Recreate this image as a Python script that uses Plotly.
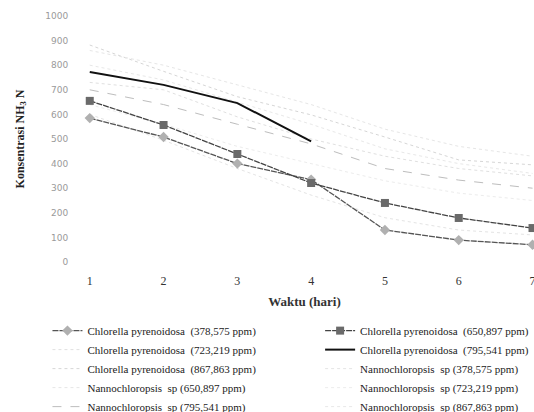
import plotly.graph_objects as go

days = [1, 2, 3, 4, 5, 6, 7]
x_tick_labels = ["1", "2", "3", "4", "5", "6", "7"]
y_tick_values = [0, 100, 200, 300, 400, 500, 600, 700, 800, 900, 1000]

c378 = [585, 508, 400, 335, 130, 89, 70]
c650 = [655, 557, 439, 321, 240, 179, 138]
c723 = [730, 700, 590, 500, 430, 380, 350]
c795 = [772, 720, 646, 490, None, None, None]
c867 = [882, 775, 672, 598, 508, 415, 395]
n378 = [600, 495, 380, 272, 180, 130, 110]
n650 = [860, 800, 720, 640, 540, 470, 430]
n723 = [640, 560, 470, 400, 330, 280, 250]
n795 = [700, 640, 560, 480, 380, 333, 300]
n867 = [800, 740, 650, 560, 460, 400, 360]

names = {
    "c378": "Chlorella pyrenoidosa  (378,575 ppm)",
    "c650": "Chlorella pyrenoidosa  (650,897 ppm)",
    "c723": "Chlorella pyrenoidosa  (723,219 ppm)",
    "c795": "Chlorella pyrenoidosa  (795,541 ppm)",
    "c867": "Chlorella pyrenoidosa  (867,863 ppm)",
    "n378": "Nannochloropsis  sp (378,575 ppm)",
    "n650": "Nannochloropsis  sp (650,897 ppm)",
    "n723": "Nannochloropsis  sp (723,219 ppm)",
    "n795": "Nannochloropsis  sp (795,541 ppm)",
    "n867": "Nannochloropsis  sp (867,863 ppm)",
}

order_left = ["c378", "c723", "c867", "n650", "n795"]
order_right = ["c650", "c795", "n378", "n723", "n867"]

fig = go.Figure()

def add(key, y, color, width, dash, marker=None):
    legend = "legend" if key in order_left else "legend2"
    rank = order_left.index(key) if key in order_left else order_right.index(key)
    kw = dict(x=days, y=y, name=names[key], legend=legend, legendrank=rank,
              line=dict(color=color, width=width, dash=dash))
    if marker:
        kw["mode"] = "lines+markers"
        kw["marker"] = marker
    else:
        kw["mode"] = "lines"
    fig.add_trace(go.Scatter(**kw))

# faint series first (drawn underneath)
add("c723", c723, "#e0e0e0", 1, "dot")
add("c867", c867, "#d6d6d6", 1, "dot")
add("n650", n650, "#e6e6e6", 1, "dot")
add("n795", n795, "#bdbdbd", 1, "dash")
add("n378", n378, "#e4e4e4", 1, "dot")
add("n723", n723, "#ececec", 1, "dot")
add("n867", n867, "#e8e8e8", 1, "dot")
# visible series
add("c378", c378, "#555555", 1.3, "6px,1px",
    marker=dict(symbol="diamond", size=8, color="#b0b0b0"))
add("c650", c650, "#444444", 1.3, "6px,1px",
    marker=dict(symbol="square", size=8, color="#6a6a6a"))
add("c795", c795, "#111111", 2, "solid")

legend_font = dict(family="Liberation Serif", size=11, color="#222222")
fig.update_layout(
    width=534, height=412,
    margin=dict(l=75, r=0, t=16, b=150, autoexpand=False),
    paper_bgcolor="white", plot_bgcolor="white",
    showlegend=True,
    legend=dict(x=-0.06, y=-0.22, xanchor="left", yanchor="top",
                font=legend_font, bgcolor="rgba(0,0,0,0)",
                tracegroupgap=0, itemwidth=30),
    legend2=dict(x=0.534, y=-0.22, xanchor="left", yanchor="top",
                 font=legend_font, bgcolor="rgba(0,0,0,0)",
                 tracegroupgap=0, itemwidth=30),
    xaxis=dict(range=[0.8, 7.02], tickvals=days, ticktext=x_tick_labels,
               showgrid=False, zeroline=False, showline=False,
               ticks="outside", ticklen=8, tickcolor="white",
               ticklabeloverflow="allow", automargin=False,
               tickfont=dict(family="Liberation Serif", size=12, color="#333333"),
               title=dict(text="<b>Waktu (hari)</b>", standoff=9,
                          font=dict(family="Liberation Serif", size=13, color="#333333"))),
    yaxis=dict(range=[0, 1000], tickvals=y_tick_values,
               showgrid=False, zeroline=False, showline=False,
               ticks="outside", ticklen=4, tickcolor="white", automargin=False,
               tickfont=dict(family="DejaVu Sans", size=9, color="#9a9a9a"),
               title=dict(text="<b>Konsentrasi NH<sub>3</sub> N</b>", standoff=18,
                          font=dict(family="Liberation Serif", size=12, color="#222222"))),
)

fig.write_html("out.html", config={"displayModeBar": False},
               post_script="document.body.style.margin='0px';")
